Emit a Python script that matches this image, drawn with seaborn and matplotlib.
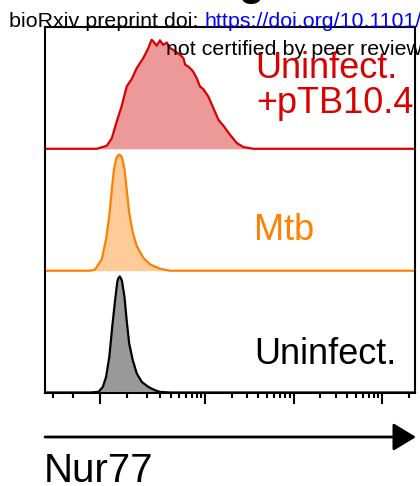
import numpy as np
import pandas as pd
import matplotlib
matplotlib.use("Agg")
import matplotlib.pyplot as plt
import seaborn as sns
from matplotlib.patches import FancyArrowPatch

# ---- data (x = display channel 0-1024, y = % of mode) ----
red_x = [0, 143, 171, 185, 200, 212, 226, 240, 254, 272, 286, 295, 302, 309, 318, 327, 337,
         346, 355, 365, 374, 383, 388, 397, 410, 420, 429, 438, 452, 466, 480, 494, 512,
         531, 549, 577, 1024]
red_y = [0, 0, 2.6, 9.2, 25.0, 36.5, 53.7, 60.1, 69.6, 78.2, 86.8, 94.0, 91.8, 88.8, 93.5,
         89.6, 91.6, 86.8, 85.3, 83.0, 81.0, 78.2, 72.4, 70.9, 66.6, 60.9, 53.7, 51.5, 45.1,
         35.1, 25.0, 19.8, 12.1, 4.9, 1.5, 0, 0]

mtb_x = [0, 124, 138, 157, 169, 178, 185, 191, 195, 198, 202, 206, 209, 213, 216, 220, 226,
         233, 243, 254, 272, 291, 318, 346, 1024]
mtb_y = [0, 0, 0.8, 9.7, 27.0, 47.1, 70.1, 87.3, 93.4, 97.4, 99.4, 100, 99.4, 97.4, 93.4,
         87.3, 70.1, 50.0, 32.8, 21.2, 11.2, 5.4, 1.7, 0, 0]

uninf_x = [0, 125, 148, 160, 169, 178, 186, 194, 200, 203, 207, 210, 213, 220, 226, 233, 243,
           254, 268, 286, 304, 318, 346, 1024]
uninf_y = [0, 0, 0.5, 4.8, 13.4, 30.7, 56.5, 79.6, 95.3, 98.5, 100, 98.5, 96.2, 82.4, 62.3,
           42.2, 27.8, 16.4, 9.1, 4.8, 2.0, 0.5, 0, 0]

labels = ["Uninfect.\n+pTB10.4", "Mtb", "Uninfect."]
line_colors = ["#D90000", "#FF7F00", "#000000"]
fill_colors = ["#EE9999", "#FFCC99", "#999999"]

major_vals = [0, 1e3, 1e4, 1e5]
minor_vals = [-200, -100, 100, 200, 300, 400, 500, 600, 700, 800, 900,
              2e3, 3e3, 4e3, 5e3, 6e3, 7e3, 8e3, 9e3,
              2e4, 3e4, 4e4, 5e4, 6e4, 7e4, 8e4, 9e4, 2e5]

# ---- style ----
sns.set_theme(style="white")
plt.rcParams['font.family'] = ['Liberation Sans', 'DejaVu Sans']
plt.rcParams['text.color'] = 'black'

W, H = 420, 486
fig = plt.figure(figsize=(W / 100, H / 100), dpi=100)


def fx(px):
    return px / W


def fy(py):
    return 1 - py / H


def biex_channel(v):
    # biexponential-like display transform of the Nur77 axis
    v = np.asarray(v, dtype=float)
    px = 100 + 38.5 * np.arcsinh(v / 131.0)
    return (px - 45) * 1024 / 370


left_px, right_px = 45, 415
bounds = [27, 148.8, 270.7, 392.5]
series = [(red_x, red_y), (mtb_x, mtb_y), (uninf_x, uninf_y)]

axes = []
for i in range(3):
    top, bot = bounds[i], bounds[i + 1]
    ax = fig.add_axes([fx(left_px), fy(bot), (right_px - left_px) / W, (bot - top) / H])
    ax.set_facecolor('none')
    xs, ys = series[i]
    df = pd.DataFrame({"x": xs, "y": ys})
    ax.fill_between(df["x"], 0, df["y"], color=fill_colors[i], lw=0, zorder=1)
    sns.lineplot(data=df, x="x", y="y", ax=ax, color=line_colors[i], lw=1.6,
                 sort=False, estimator=None, zorder=3)
    for ln in ax.lines:
        ln.set_clip_on(False)
    ax.set_xlim(0, 1024)
    ax.set_ylim(0, 105)
    ax.set_xlabel("")
    ax.set_ylabel("")
    ax.set_yticks([])
    for s in ax.spines.values():
        s.set_color("black")
        s.set_linewidth(1.5)
    ax.spines['bottom'].set_visible(i == 2)
    ax.spines['top'].set_visible(i == 0)
    if i < 2:
        ax.set_xticks([])
    axes.append(ax)

axb = axes[2]
axb.set_xticks(biex_channel(major_vals))
axb.set_xticks(biex_channel(minor_vals), minor=True)
axb.tick_params(axis='x', which='major', direction='out', length=7.7, width=1.5,
                color='black', bottom=True, labelbottom=False)
axb.tick_params(axis='x', which='minor', direction='out', length=3.6, width=1.5,
                color='black', bottom=True)

# ---- sample labels ----
fs = 26
fig.text(fx(255), fy(78.3), labels[0].split("\n")[0], color=line_colors[0], fontsize=fs,
         va='baseline', ha='left')
fig.text(fx(256), fy(112.7), labels[0].split("\n")[1], color=line_colors[0], fontsize=fs,
         va='baseline', ha='left')
fig.text(fx(254), fy(240), labels[1], color=line_colors[1], fontsize=fs,
         va='baseline', ha='left')
fig.text(fx(254), fy(364), labels[2], color=line_colors[2], fontsize=fs,
         va='baseline', ha='left')

# ---- axis arrow and label ----
arrow = FancyArrowPatch((fx(45), fy(437)), (fx(416), fy(437)), transform=fig.transFigure,
                        arrowstyle="-|>,head_length=14,head_width=8.5", mutation_scale=1,
                        lw=2, color='black', shrinkA=0, shrinkB=0)
fig.add_artist(arrow)
fig.text(fx(44), fy(482), "Nur77", fontsize=29, va='baseline', ha='left', color='black')

# ---- preprint header ----
fig.text(fx(251), fy(-5), "g", fontsize=30, fontweight='bold', ha='center', va='baseline',
         color='black')
fig.text(fx(9), fy(27.3), "bioRxiv preprint doi: ", fontsize=15.4, va='baseline', ha='left',
         color='black', zorder=10)
fig.text(fx(205), fy(27.3), "https://doi.org/10.1101/2021", fontsize=15.4, color='#0000FF',
         va='baseline', ha='left', zorder=10)
fig.text(fx(166.5), fy(55), "not certified by peer review", fontsize=15.4, va='baseline',
         ha='left', color='black', zorder=10)

fig.savefig("out.png", dpi=100)
